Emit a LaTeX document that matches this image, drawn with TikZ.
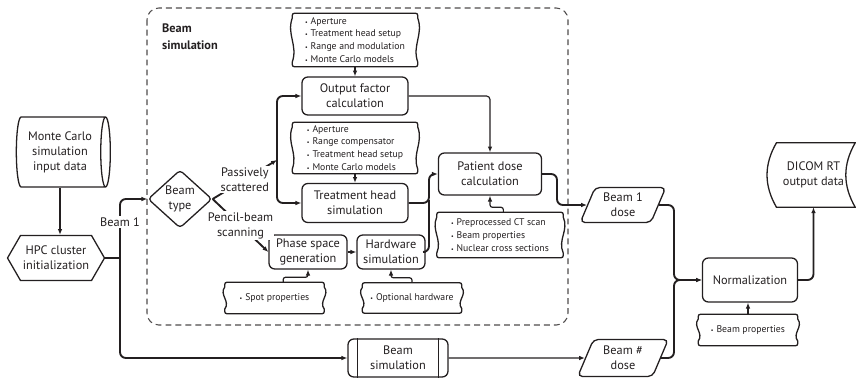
\documentclass[tikz,border=0pt]{standalone}
\usepackage{fontspec}
\setmainfont{PT Sans}
\usepackage{tikz}
\usetikzlibrary{shapes,arrows,arrows.meta,positioning,calc}
\definecolor{ink}{HTML}{231F20}

% small bullet for the input lists
\newcommand{\itm}{{\fontsize{5}{5}\selectfont\textbullet}\hspace{0.3em}}

% wavy-sided frame around a list node
\newcommand{\wavyframe}[1]{%
  \draw[frame] ([xshift=4pt]#1.north west) -- ([xshift=-4pt]#1.north east)
    .. controls (#1.north east) .. ([yshift=-4pt]#1.north east)
    .. controls ($(#1.north east)!0.4!(#1.south east)+(5pt,0)$) and ($(#1.north east)!0.6!(#1.south east)+(-5pt,0)$) .. ([yshift=4pt]#1.south east)
    .. controls (#1.south east) .. ([xshift=-4pt]#1.south east)
    -- ([xshift=4pt]#1.south west)
    .. controls (#1.south west) .. ([yshift=4pt]#1.south west)
    .. controls ($(#1.south west)!0.4!(#1.north west)+(5pt,0)$) and ($(#1.south west)!0.6!(#1.north west)+(-5pt,0)$) .. ([yshift=-4pt]#1.north west)
    .. controls (#1.north west) .. cycle;}

\begin{document}
\begin{tikzpicture}[x=0.03cm, y=-0.03cm, ink,
    frame/.style={line width=1.1pt, ink},
    box/.style={rectangle, draw, frame, rounded corners=5pt, align=center, font=\fontsize{10.5}{12.8}\selectfont, inner sep=2pt},
    list/.style={rectangle, align=left, font=\fontsize{8.3}{11}\selectfont, inner sep=2pt},
    lbl/.style={fill=white, align=center, font=\fontsize{10.5}{12.8}\selectfont, inner sep=1pt},
    arrow/.style={-{Latex[length=5pt,width=4pt]}, line width=1pt, rounded corners=3pt},
    flow/.style={-{Latex[length=5pt,width=4pt]}, line width=1.6pt, rounded corners=5pt}
  ]
    \useasboundingbox (0,0) rectangle (856,379);

    % beam simulation group
    \draw[dashed, dash pattern=on 5pt off 3.5pt, ink!80, line width=0.9pt, rounded corners=10pt] (147,8) rectangle (568,325);
    \node[anchor=north west, align=left, font=\bfseries\fontsize{10.5}{14}\selectfont] (title) at (158,20) {Beam\\simulation};

    % inputs and start
    \node[cylinder, draw, frame, shape aspect=0.22, minimum width=2.1cm, minimum height=2.82cm, align=center, font=\fontsize{10.5}{12.8}\selectfont, inner sep=1pt] (mcd) at (60,152) {Monte Carlo\\simulation\\input data};
    \node[signal, signal to=west and east, signal pointer angle=120, draw, frame, minimum width=2.91cm, minimum height=1.35cm, align=center, font=\fontsize{10.5}{12.8}\selectfont, inner sep=1pt] (hpc) at (56,258) {HPC cluster\\initialization};
    \node[diamond, draw, frame, rounded corners=3pt, aspect=1.1, inner sep=0pt, minimum width=1.92cm, minimum height=1.74cm, align=center, font=\fontsize{10.5}{12.8}\selectfont] (btype) at (180,199) {Beam\\type};

    % passively scattered branch
    \node[list, minimum width=3.75cm, minimum height=1.59cm] (ofcin) at (355,40) {\itm Aperture\\\itm Treatment head setup\\\itm Range and modulation\\\itm Monte Carlo models};
    \node[box, minimum width=3.18cm, minimum height=1.14cm] (ofc) at (355,96) {Output factor\\calculation};
    \node[list, minimum width=3.75cm, minimum height=1.53cm] (thsin) at (355,148) {\itm Aperture\\\itm Range compensator\\\itm Treatment head setup\\\itm Monte Carlo models};
    \node[box, minimum width=3.18cm, minimum height=1.17cm] (ths) at (355,203) {Treatment head\\simulation};

    % pencil-beam branch
    \node[box, minimum width=2.34cm, minimum height=1.02cm] (psg) at (308,252) {Phase space\\generation};
    \node[box, minimum width=2.04cm, minimum height=1.02cm] (hws) at (391,252) {Hardware\\simulation};
    \node[list, minimum width=2.97cm, minimum height=0.93cm] (spot) at (274.5,298) {\itm Spot properties};
    \node[list, minimum width=2.97cm, minimum height=0.9cm] (opt) at (412,298) {\itm Optional hardware};

    % dose
    \node[box, minimum width=3.09cm, minimum height=1.26cm] (pdc) at (490,174) {Patient dose\\calculation};
    \node[list, minimum width=3.78cm, minimum height=1.35cm] (pdcin) at (500,235) {\itm Preprocessed CT scan\\\itm Beam properties\\\itm Nuclear cross sections};

    \foreach \n in {ofcin,thsin,spot,opt,pdcin}
      \wavyframe{\n};

    \node[trapezium, trapezium left angle=67, trapezium right angle=113, draw, frame, rounded corners=4pt, minimum width=2.2cm, minimum height=1.05cm, align=center, font=\fontsize{10.5}{12.8}\selectfont, inner sep=1pt] (b1d) at (623,205) {Beam 1\\dose};
    \node[trapezium, trapezium left angle=67, trapezium right angle=113, draw, frame, rounded corners=4pt, minimum width=2.2cm, minimum height=1.11cm, align=center, font=\fontsize{10.5}{12.8}\selectfont, inner sep=1pt] (bnd) at (623,358) {Beam \#\\dose};
    \node[box, minimum width=3cm, minimum height=1.14cm] (bsim) at (398,358) {Beam\\simulation};
    \draw[frame] ([xshift=0.3cm]bsim.north west) -- ([xshift=0.3cm]bsim.south west);
    \draw[frame] ([xshift=-0.3cm]bsim.north east) -- ([xshift=-0.3cm]bsim.south east);

    \node[box, minimum width=2.85cm, minimum height=1.32cm] (norm) at (750,280) {Normalization};
    \node[list, minimum width=2.97cm, minimum height=0.93cm] (normin) at (748,330) {\itm Beam properties};
    \wavyframe{normin};

    \node[minimum width=2.49cm, minimum height=1.92cm, align=center, font=\fontsize{10.5}{12.8}\selectfont] (dicom) at (813.5,175) {DICOM RT\\output data};
    \draw[frame] ([xshift=4pt]dicom.north west) -- (dicom.north east) to[out=240,in=120] (dicom.south east)
      -- ([xshift=4pt]dicom.south west) to[out=120,in=240] ([xshift=4pt]dicom.north west) -- cycle;

    % connectors
    \coordinate (fork) at (120,258);
    \coordinate (split) at (277,160);
    \draw[arrow] (mcd.south) -- (mcd.south |- hpc.north);
    \draw[flow, -] (hpc.east) -- (fork);
    \draw[flow] (fork) |- (btype.west);
    \draw[flow] (fork) |- (bsim.west);
    \node[lbl] (beam1) at (120,222) {Beam 1};

    \draw[flow, rounded corners=0pt] (btype.east) -- node[lbl] (passive) {Passively\\scattered} (split);
    \draw[flow, rounded corners=0pt] (btype.east) -- node[lbl] (pencil) {Pencil-beam\\scanning} (psg.west);
    \draw[flow] (split) |- (ofc.west);
    \draw[flow] (split) |- (ths.west);

    \draw[arrow] (ofcin) -- (ofc);
    \draw[arrow] (thsin) -- (ths);
    \draw[arrow] (psg) -- (hws);
    \draw[arrow, rounded corners=2pt] ([xshift=0.26cm]spot.north) -- ++(0,-5) -| (psg.south);
    \draw[arrow, rounded corners=2pt] (opt.north) -- ++(0,-5) -| (hws.south);
    \draw[arrow, rounded corners=2pt] ([xshift=0.1cm]pdcin.north) -- ++(0,-5) -| (pdc.south);

    \draw[arrow] (ofc.east) -| (pdc.north);
    \draw[flow] (ths.east) -| (429,185) |- (pdc.west);
    \draw[flow, -] (hws.east) -| (429,200);

    \draw[flow] (pdc.east) -| (557,190) |- (b1d.west);
    \draw[arrow] (bsim.east) -- (bnd.west);
    \draw[flow] (b1d.east) -| (674,250) |- (norm.west);
    \draw[flow] (bnd.east) -| (674,320) |- (norm.west);
    \draw[arrow] (normin.north) -- (normin.north |- norm.south);
    \draw[flow] (norm.east) -| (dicom.south);
  \end{tikzpicture}
\end{document}
